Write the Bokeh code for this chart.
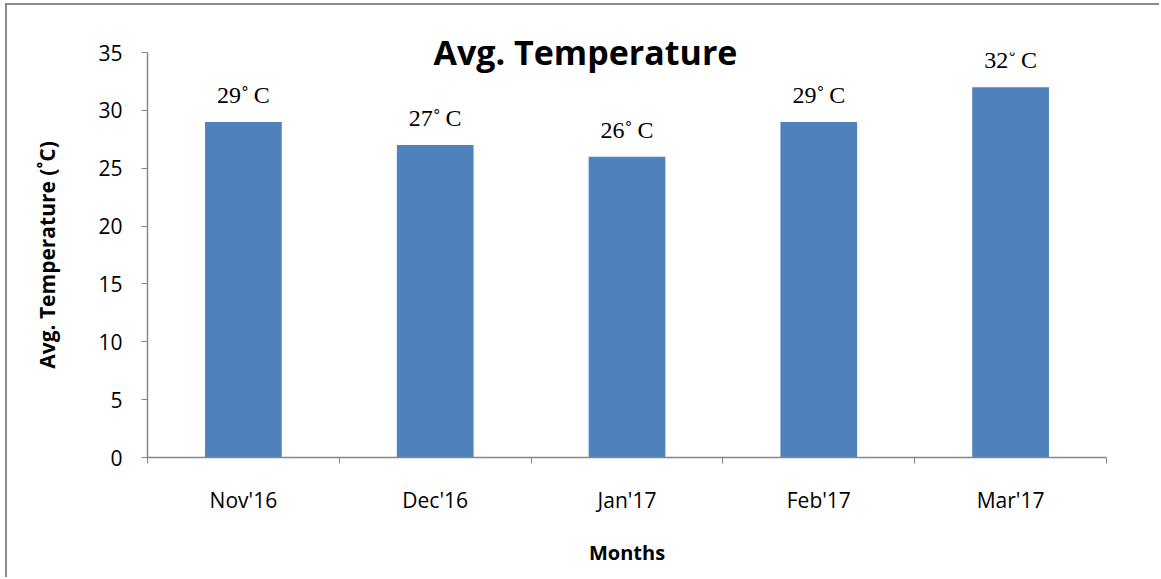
from bokeh.plotting import figure
from bokeh.models import ColumnDataSource, FixedTicker, Range1d
from bokeh.core.properties import value
from bokeh.embed import file_html
from bokeh.resources import INLINE

# Monthly average temperature (°C)
months = ["Nov'16", "Dec'16", "Jan'17", "Feb'17", "Mar'17"]
temps = [29, 27, 26, 29, 32]
value_labels = ["29˚\u2009C", "27˚\u2009C", "26˚\u2009C", "29˚\u2009C", "32˚\u2009C"]
y_ticks = [0, 5, 10, 15, 20, 25, 30, 35]
y_max = 35

AXIS_GREY = "#868686"
BAR_BLUE = "#4f81bd"
TEXT_FONT = "Open Sans"

centers = [i + 0.5 for i in range(len(months))]
src = ColumnDataSource(dict(x=centers, top=temps, label=value_labels))

p = figure(width=1154, height=574, output_backend="svg", toolbar_location=None,
           x_range=Range1d(0, len(months)), y_range=Range1d(0, y_max),
           min_border_left=140, min_border_right=55, min_border_top=47, min_border_bottom=122)
p.styles = {"margin-left": "5px", "margin-top": "3px",
            "border-left": "2px solid #8c8c8c", "border-top": "2px solid #8c8c8c"}

# title straddles the top of the plot area
p.title.text = "Avg. Temperature"
p.title.align = "left"
p.title.offset = 286
p.title.standoff = -45
p.title.text_font = TEXT_FONT
p.title.text_font_style = "bold"
p.title.text_font_size = "34px"
p.title.text_color = "black"

p.outline_line_color = None
p.grid.visible = False
p.background_fill_color = "white"
p.border_fill_color = "white"

p.vbar(x="x", top="top", width=0.4, bottom=0, source=src,
       fill_color=BAR_BLUE, line_color=None)

p.text(x="x", y="top", text="label", source=src, y_offset=-27,
       text_align="center", text_baseline="alphabetic",
       text_font=value("Liberation Serif"), text_font_size="24px", text_color="black")

# x axis: month names at bar centres, ticks at category boundaries
xa = p.xaxis[0]
xa.ticker = FixedTicker(ticks=centers, minor_ticks=list(range(len(months) + 1)))
xa.major_label_overrides = {c: m for c, m in zip(centers, months)}
xa.major_tick_out = 0
xa.major_tick_in = 0
xa.minor_tick_out = 6
xa.minor_tick_in = 0
xa.minor_tick_line_color = AXIS_GREY
xa.axis_line_color = AXIS_GREY
xa.axis_line_width = 1.5
xa.major_label_standoff = 22
xa.major_label_text_font = TEXT_FONT
xa.major_label_text_font_size = "21px"
xa.major_label_text_color = "black"
xa.axis_label = "Months"
xa.axis_label_text_font = TEXT_FONT
xa.axis_label_text_font_style = "bold"
xa.axis_label_text_font_size = "20px"
xa.axis_label_text_color = "black"
xa.axis_label_standoff = 22

ya = p.yaxis[0]
ya.ticker = FixedTicker(ticks=y_ticks, minor_ticks=[])
ya.major_tick_out = 6
ya.major_tick_in = 0
ya.major_tick_line_color = AXIS_GREY
ya.axis_line_color = AXIS_GREY
ya.axis_line_width = 1.5
ya.major_label_standoff = 19
ya.major_label_text_font = TEXT_FONT
ya.major_label_text_font_size = "21px"
ya.major_label_text_color = "black"
ya.axis_label = "Avg. Temperature (˚C)"
ya.axis_label_text_font = TEXT_FONT
ya.axis_label_text_font_style = "bold"
ya.axis_label_text_font_size = "21px"
ya.axis_label_text_color = "black"
ya.axis_label_standoff = 34

open("out.html", "w").write(file_html(p, INLINE))
